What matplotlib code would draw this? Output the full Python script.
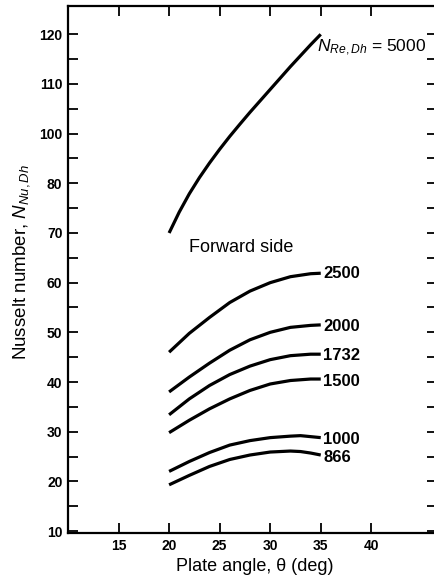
import matplotlib
matplotlib.use("Agg")
import matplotlib.pyplot as plt
import numpy as np

plt.rcParams['font.family'] = ['Liberation Sans', 'DejaVu Sans']
plt.rcParams['mathtext.fontset'] = 'custom'
plt.rcParams['mathtext.rm'] = 'Liberation Sans'
plt.rcParams['mathtext.it'] = 'Liberation Sans:italic'

# Nusselt number vs plate angle, forward side, one curve per Reynolds number
re_labels = ["2500", "2000", "1732", "1500", "1000", "866"]

angle_5000 = [20, 21, 22, 23, 24, 25, 26, 27, 28, 29, 30, 31, 32, 33, 34, 35]
nu_5000 = [70.0, 74.2, 77.9, 82.3, 88.2, 93.7, 98.9, 101.9, 104.3, 106.6,
           108.9, 111.2, 113.5, 115.7, 117.9, 120.0]

angle = [20, 22, 24, 26, 28, 30, 32, 34, 35]
nu_2500 = [46.0, 49.8, 53.0, 56.0, 58.3, 60.0, 61.2, 61.8, 61.9]
nu_2000 = [38.0, 41.0, 43.8, 46.4, 48.5, 50.0, 51.0, 51.4, 51.5]
nu_1732 = [33.4, 36.6, 39.3, 41.5, 43.2, 44.5, 45.3, 45.6, 45.6]
nu_1500 = [29.8, 32.3, 34.6, 36.6, 38.3, 39.6, 40.3, 40.6, 40.6]

angle_low = [20, 22, 24, 26, 28, 30, 32, 33, 34, 35]
nu_1000 = [22.0, 24.0, 25.8, 27.3, 28.2, 28.8, 29.1, 29.2, 29.0, 28.8]
nu_866 = [19.3, 21.2, 23.0, 24.4, 25.3, 25.9, 26.1, 26.0, 25.7, 25.3]

# where each Reynolds-number label sits at the right end of its curve
label_y = [61.8, 51.2, 45.3, 40.2, 28.5, 24.9]

x_ticks = [15, 20, 25, 30, 35, 40]
y_ticks = [10, 20, 30, 40, 50, 60, 70, 80, 100, 110, 120]
y_minor = [15, 25, 35, 45, 55, 65, 75, 90, 105, 115]

# the printed y axis skips 90: 80 -> 100 spans one grid step
_lab = [0, 80, 100, 300]
_pos = [0, 80, 90, 290]


def fwd(v):
    return np.interp(v, _lab, _pos)


def inv(v):
    return np.interp(v, _pos, _lab)


fig = plt.figure(figsize=(4.34, 5.84), dpi=100)
ax = fig.add_axes([68 / 434, 51 / 584, 369 / 434, 527 / 584])
ax.set_yscale('function', functions=(fwd, inv))

lw = 2.3
ax.plot(angle_5000, nu_5000, color='black', lw=lw, solid_capstyle='butt')
for ys in [nu_2500, nu_2000, nu_1732, nu_1500]:
    ax.plot(angle, ys, color='black', lw=lw, solid_capstyle='butt')
for ys in [nu_1000, nu_866]:
    ax.plot(angle_low, ys, color='black', lw=lw, solid_capstyle='butt')

for txt, yv in zip(re_labels, label_y):
    ax.text(35.25, yv, txt, fontsize=12, fontweight='bold', va='center', ha='left')

ax.text(34.6, 117.2, r"$N_{Re,Dh}$ = 5000", fontsize=12.5, va='center', ha='left')
ax.text(22.0, 67.0, "Forward side", fontsize=13, va='center', ha='left')

ax.set_xlim(10, 46.5)
ax.set_ylim(9.6, 125.7)
ax.set_xticks(x_ticks)
ax.set_yticks(y_ticks)
ax.set_yticks(y_minor, minor=True)
ax.set_xticklabels([str(v) for v in x_ticks], fontweight='bold')
ax.set_yticklabels([str(v) for v in y_ticks], fontweight='bold')

ax.tick_params(which='both', direction='in', top=True, right=True,
               length=7, width=1.3, labelsize=10, pad=4)
for s in ax.spines.values():
    s.set_linewidth(1.6)

ax.set_xlabel("Plate angle, θ (deg)", fontsize=13)
ax.set_ylabel(r"Nusselt number, $N_{Nu,Dh}$", fontsize=13.5)
ax.xaxis.set_label_coords((255 - 68) / 369, -(558 - 533) / 527)
ax.yaxis.set_label_coords(-(68 - 32) / 369, (533 - 262) / 527)

fig.savefig("out.png", dpi=100)
